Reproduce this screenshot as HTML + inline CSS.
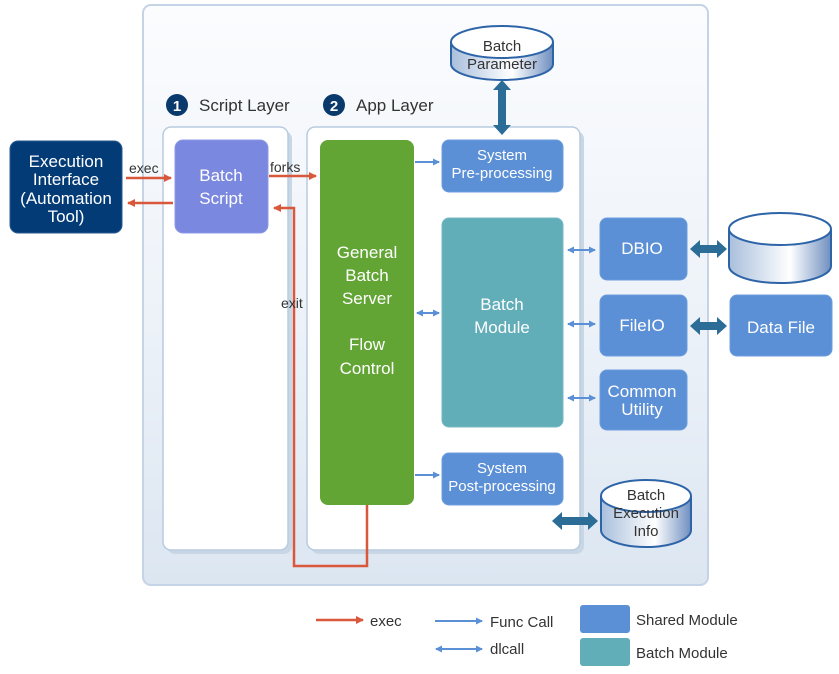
<!DOCTYPE html>
<html><head><meta charset="utf-8"><style>
html,body{margin:0;padding:0;background:#fff;}
svg{display:block;}
text{font-family:"Liberation Sans","DejaVu Sans",sans-serif;}
</style></head><body>
<svg width="839" height="674" viewBox="0 0 839 674" xmlns="http://www.w3.org/2000/svg">
<defs>
<linearGradient id="bg" x1="0" y1="0" x2="0" y2="1"><stop offset="0" stop-color="#fbfcfe"/><stop offset="0.5" stop-color="#eef3f9"/><stop offset="1" stop-color="#dce6f1"/></linearGradient>
<linearGradient id="cyl" x1="0" y1="0" x2="1" y2="0"><stop offset="0" stop-color="#a9bfdc"/><stop offset="0.6" stop-color="#ffffff"/><stop offset="1" stop-color="#6f8fc0"/></linearGradient>
<marker id="ra" markerWidth="8" markerHeight="8" refX="7" refY="4" orient="auto" markerUnits="userSpaceOnUse"><path d="M0,0 L8,4 L0,8 Z" fill="#d9573a"/></marker>
<marker id="ba" markerWidth="7" markerHeight="7" refX="6" refY="3.5" orient="auto-start-reverse" markerUnits="userSpaceOnUse"><path d="M0,0 L7,3.5 L0,7 Z" fill="#5b8fd6"/></marker>
</defs>
<rect x="143" y="5" width="565" height="580" rx="8" fill="url(#bg)" stroke="#c4d3e5" stroke-width="2"/>
<rect x="167" y="131" width="125" height="423" rx="8" fill="#c9d6e6"/>
<rect x="163" y="127" width="125" height="423" rx="8" fill="#fff" stroke="#b8cbe0" stroke-width="1.5"/>
<rect x="311" y="131" width="273" height="423" rx="8" fill="#c9d6e6"/>
<rect x="307" y="127" width="273" height="423" rx="8" fill="#fff" stroke="#b8cbe0" stroke-width="1.5"/>
<circle cx="177" cy="105" r="11" fill="#0a3a6c"/><text x="177" y="111" font-size="15" font-weight="bold" fill="#fff" text-anchor="middle">1</text>
<text x="199" y="111" font-size="17" fill="#333">Script Layer</text>
<circle cx="334" cy="105" r="11" fill="#0a3a6c"/><text x="334" y="111" font-size="15" font-weight="bold" fill="#fff" text-anchor="middle">2</text>
<text x="356" y="111" font-size="17" fill="#333">App Layer</text>
<rect x="10" y="141" width="112" height="92" rx="8" fill="#033b77" stroke="#2b5a92"/>
<g fill="#fff" font-size="17" text-anchor="middle"><text x="66" y="167">Execution</text><text x="66" y="185">Interface</text><text x="66" y="204">(Automation</text><text x="66" y="222">Tool)</text></g>
<rect x="175" y="140" width="93" height="93" rx="8" fill="#7b88e0" stroke="#8c98e6"/>
<g fill="#fff" font-size="17" text-anchor="middle"><text x="221" y="181">Batch</text><text x="221" y="204">Script</text></g>
<rect x="320" y="140" width="94" height="365" rx="8" fill="#62a534"/>
<g fill="#fff" font-size="17" text-anchor="middle"><text x="367" y="258">General</text><text x="367" y="281">Batch</text><text x="367" y="304">Server</text><text x="367" y="350">Flow</text><text x="367" y="374">Control</text></g>
<g fill="#5b8fd6" stroke="#6c9ddf">
<rect x="442" y="140" width="121" height="52" rx="7"/>
<rect x="442" y="453" width="121" height="52" rx="7"/>
<rect x="600" y="218" width="87" height="62" rx="7"/>
<rect x="600" y="295" width="87" height="61" rx="7"/>
<rect x="600" y="370" width="87" height="60" rx="7"/>
<rect x="730" y="295" width="102" height="61" rx="7"/>
</g>
<rect x="442" y="218" width="121" height="209" rx="7" fill="#62aeb8" stroke="#74b9c2"/>
<g fill="#fff" font-size="15" text-anchor="middle">
<text x="502" y="160">System</text><text x="502" y="178">Pre-processing</text>
<text x="502" y="473">System</text><text x="502" y="491">Post-processing</text>
<text x="642" y="254" font-size="17">DBIO</text>
<text x="642" y="331" font-size="17">FileIO</text>
<text x="642" y="397" font-size="17">Common</text><text x="642" y="415" font-size="17">Utility</text>
<text x="781" y="333" font-size="17">Data File</text>
<text x="502" y="310" font-size="17">Batch</text><text x="502" y="333" font-size="17">Module</text>
</g>
<g stroke="#2d64a8" stroke-width="2">
<path d="M451,42 L451,64 A51,16 0 0 0 553,64 L553,42" fill="url(#cyl)"/>
<ellipse cx="502" cy="42" rx="51" ry="16" fill="#fff"/>
<path d="M729,229 L729,266 A51,17 0 0 0 831,266 L831,229" fill="url(#cyl)"/>
<ellipse cx="780" cy="229" rx="51" ry="16" fill="#fff"/>
<path d="M601,496 L601,530 A45,17 0 0 0 691,530 L691,496" fill="url(#cyl)"/>
<ellipse cx="646" cy="496" rx="45" ry="16" fill="#fff"/>
</g>
<g fill="#333" font-size="15" text-anchor="middle">
<text x="502" y="51">Batch</text><text x="502" y="69">Parameter</text>
<text x="646" y="500">Batch</text><text x="646" y="518">Execution</text><text x="646" y="536">Info</text>
</g>
<g fill="#2b6d96">
<path d="M502,80 L511,90 L506,90 L506,125 L511,125 L502,135 L493,125 L498,125 L498,90 L493,90 Z"/>
<path d="M690,249 L700,240 L700,245 L717,245 L717,240 L727,249 L717,258 L717,253 L700,253 L700,258 Z"/>
<path d="M690,326 L700,317 L700,322 L717,322 L717,317 L727,326 L717,335 L717,330 L700,330 L700,335 Z"/>
<path d="M552,521 L562,512 L562,517 L588,517 L588,512 L598,521 L588,530 L588,525 L562,525 L562,530 Z"/>
</g>
<g stroke="#d9573a" stroke-width="2.5" fill="none">
<line x1="126" y1="178" x2="171" y2="178" marker-end="url(#ra)"/>
<line x1="173" y1="203" x2="128" y2="203" marker-end="url(#ra)"/>
<line x1="269" y1="176" x2="316" y2="176" marker-end="url(#ra)"/>
<polyline points="367,505 367,566 294,566 294,208 274,208" marker-end="url(#ra)"/>
<line x1="316" y1="620" x2="363" y2="620" marker-end="url(#ra)"/>
</g>
<g fill="#333" font-size="14"><text x="129" y="173">exec</text><text x="270" y="172">forks</text><text x="281" y="308">exit</text></g>
<g stroke="#5b8fd6" stroke-width="2" fill="none">
<line x1="415" y1="162" x2="439" y2="162" marker-end="url(#ba)"/>
<line x1="417" y1="313" x2="439" y2="313" marker-start="url(#ba)" marker-end="url(#ba)"/>
<line x1="415" y1="475" x2="439" y2="475" marker-end="url(#ba)"/>
<line x1="568" y1="250" x2="595" y2="250" marker-start="url(#ba)" marker-end="url(#ba)"/>
<line x1="568" y1="324" x2="595" y2="324" marker-start="url(#ba)" marker-end="url(#ba)"/>
<line x1="568" y1="398" x2="595" y2="398" marker-start="url(#ba)" marker-end="url(#ba)"/>
<line x1="435" y1="621" x2="482" y2="621" marker-end="url(#ba)"/>
<line x1="436" y1="649" x2="482" y2="649" marker-start="url(#ba)" marker-end="url(#ba)"/>
</g>
<rect x="580" y="605" width="50" height="28" rx="3" fill="#5b8fd6"/>
<rect x="580" y="638" width="50" height="28" rx="3" fill="#62aeb8"/>
<g fill="#333" font-size="15"><text x="370" y="626">exec</text><text x="490" y="627">Func Call</text><text x="490" y="654">dlcall</text><text x="636" y="625">Shared Module</text><text x="636" y="658">Batch Module</text></g>
</svg>
</body></html>
